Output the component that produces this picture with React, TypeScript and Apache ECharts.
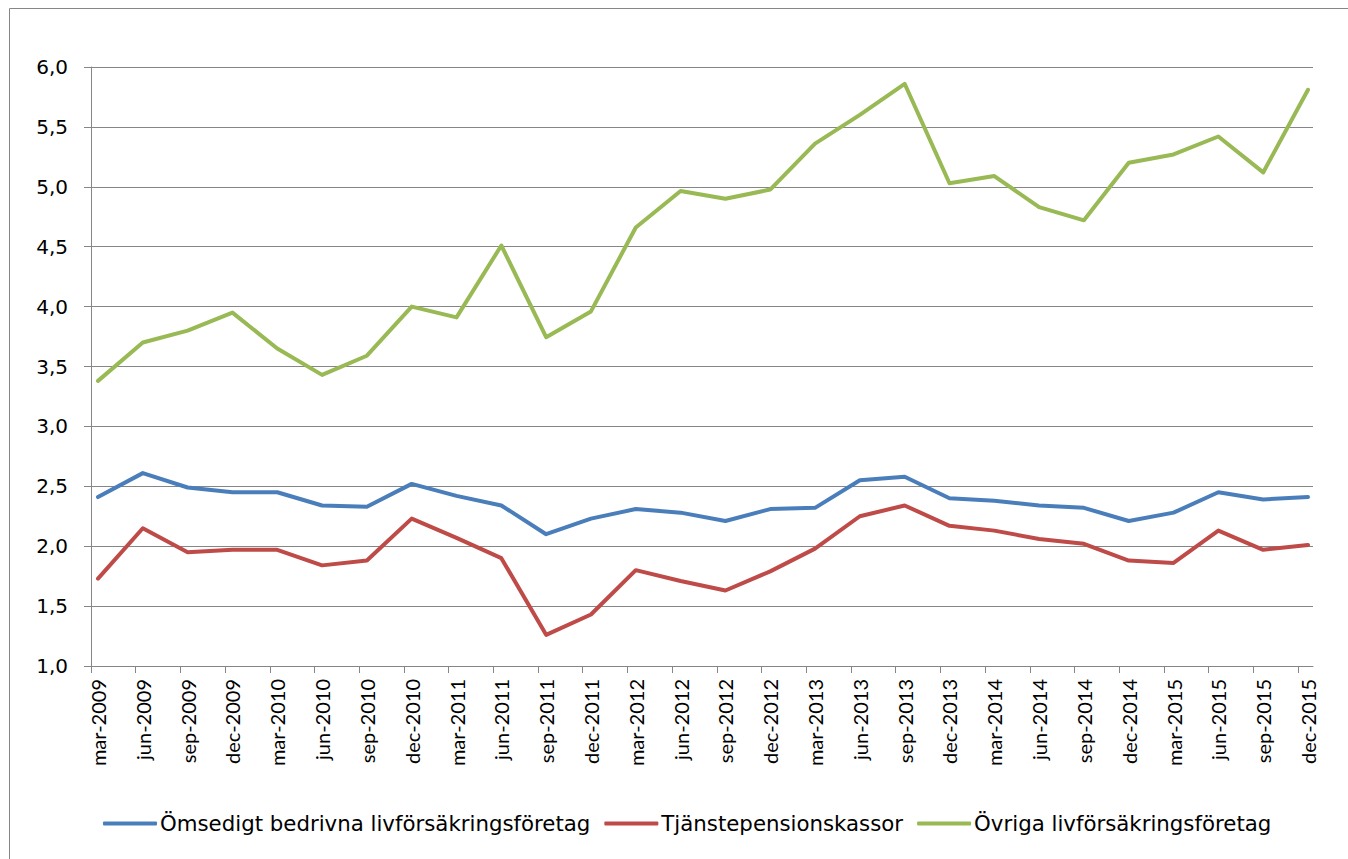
import React, { useEffect, useRef } from "react";
import * as echarts from "echarts";

const categories = [
  "mar-2009", "jun-2009", "sep-2009", "dec-2009",
  "mar-2010", "jun-2010", "sep-2010", "dec-2010",
  "mar-2011", "jun-2011", "sep-2011", "dec-2011",
  "mar-2012", "jun-2012", "sep-2012", "dec-2012",
  "mar-2013", "jun-2013", "sep-2013", "dec-2013",
  "mar-2014", "jun-2014", "sep-2014", "dec-2014",
  "mar-2015", "jun-2015", "sep-2015", "dec-2015",
];

const omsedigt = [
  2.41, 2.61, 2.49, 2.45, 2.45, 2.34, 2.33, 2.52, 2.42, 2.34, 2.10, 2.23,
  2.31, 2.28, 2.21, 2.31, 2.32, 2.55, 2.58, 2.40, 2.38, 2.34, 2.32, 2.21,
  2.28, 2.45, 2.39, 2.41,
];

const tjanstepension = [
  1.73, 2.15, 1.95, 1.97, 1.97, 1.84, 1.88, 2.23, 2.07, 1.90, 1.26, 1.43,
  1.80, 1.71, 1.63, 1.79, 1.98, 2.25, 2.34, 2.17, 2.13, 2.06, 2.02, 1.88,
  1.86, 2.13, 1.97, 2.01,
];

const ovriga = [
  3.38, 3.70, 3.80, 3.95, 3.65, 3.43, 3.59, 4.00, 3.91, 4.51, 3.745, 3.96,
  4.66, 4.965, 4.90, 4.977, 5.36, 5.60, 5.86, 5.03, 5.09, 4.83, 4.72, 5.20,
  5.27, 5.42, 5.12, 5.81,
];

const seriesNames = [
  "Ömsedigt bedrivna livförsäkringsföretag",
  "Tjänstepensionskassor",
  "Övriga livförsäkringsföretag",
];

const colors = ["#4A7EBB", "#BE4B48", "#98B954"];

const FONT = "Lato, 'Open Sans', sans-serif";
const WIDE_FONT = "'DejaVu Sans', sans-serif";
const AXIS = "#868686";

export default function App() {
  const ref = useRef<HTMLDivElement>(null);

  useEffect(() => {
    if (!ref.current) return;
    const chart = echarts.init(ref.current, undefined, { renderer: "svg" });
    const top = 67;
    const bottom = 193;
    const option: any = {
      animation: false,
      backgroundColor: "#ffffff",
      textStyle: { fontFamily: FONT },
      graphic: [
        {
          type: "rect",
          shape: { x: 9.5, y: 8.5, width: 1400, height: 900 },
          style: { fill: "none", stroke: AXIS, lineWidth: 1 },
          silent: true,
        },
      ],
      grid: [
        { left: 98, right: 40, top, bottom },
        { left: 91, right: 35, top, bottom },
        { left: 91, right: 50, top, bottom },
      ],
      xAxis: [
        {
          gridIndex: 0,
          type: "category",
          data: categories,
          boundaryGap: false,
          axisLine: { show: false },
          axisTick: { show: false },
          splitLine: { show: false },
          axisLabel: {
            rotate: 90,
            margin: 13,
            fontSize: 20,
            color: "#000",
            fontFamily: FONT,
            interval: 0,
          },
        },
        {
          gridIndex: 1,
          type: "category",
          data: categories,
          boundaryGap: false,
          axisLine: { show: true, lineStyle: { color: AXIS, width: 1 } },
          axisTick: { show: false },
          axisLabel: { show: false },
          splitLine: { show: false },
        },
        {
          gridIndex: 2,
          type: "category",
          data: categories,
          boundaryGap: false,
          axisLine: { show: false },
          axisTick: {
            show: true,
            length: 7,
            interval: 0,
            lineStyle: { color: AXIS, width: 1 },
          },
          axisLabel: { show: false },
          splitLine: { show: false },
        },
      ],
      yAxis: [
        {
          gridIndex: 0,
          type: "value",
          min: 1,
          max: 6,
          interval: 0.5,
          show: false,
          splitLine: { show: false },
        },
        {
          gridIndex: 1,
          type: "value",
          min: 1,
          max: 6,
          interval: 0.5,
          axisLine: { show: true, lineStyle: { color: AXIS, width: 1 } },
          axisTick: { show: true, length: 7, lineStyle: { color: AXIS } },
          splitLine: { show: true, lineStyle: { color: AXIS, width: 1 } },
          axisLabel: {
            margin: 23,
            fontSize: 20,
            color: "#000",
            fontFamily: WIDE_FONT,
            formatter: (v: number) => v.toFixed(1).replace(".", ","),
          },
        },
        {
          gridIndex: 2,
          type: "value",
          min: 1,
          max: 6,
          interval: 0.5,
          show: false,
          splitLine: { show: false },
        },
      ],
      legend: {
        data: seriesNames,
        left: 103,
        top: 813,
        padding: 0,
        itemWidth: 54,
        itemHeight: 4,
        itemGap: 14,
        icon: "roundRect",
        textStyle: {
          fontSize: 21.3,
          color: "#000",
          fontFamily: WIDE_FONT,
          padding: [0, 0, 0, -2],
        },
      },
      series: [
        { name: seriesNames[0], data: omsedigt, color: colors[0] },
        { name: seriesNames[1], data: tjanstepension, color: colors[1] },
        { name: seriesNames[2], data: ovriga, color: colors[2] },
      ].map((s) => ({
        ...s,
        type: "line",
        xAxisIndex: 0,
        yAxisIndex: 0,
        showSymbol: false,
        symbol: "none",
        lineStyle: { width: 4, color: s.color, cap: "round", join: "round" },
        itemStyle: { color: s.color },
      })),
    };
    chart.setOption(option);
    return () => chart.dispose();
  }, []);

  return (
    <div
      ref={ref}
      style={{ position: "fixed", left: 0, top: 0, width: 1348, height: 859 }}
    />
  );
}
